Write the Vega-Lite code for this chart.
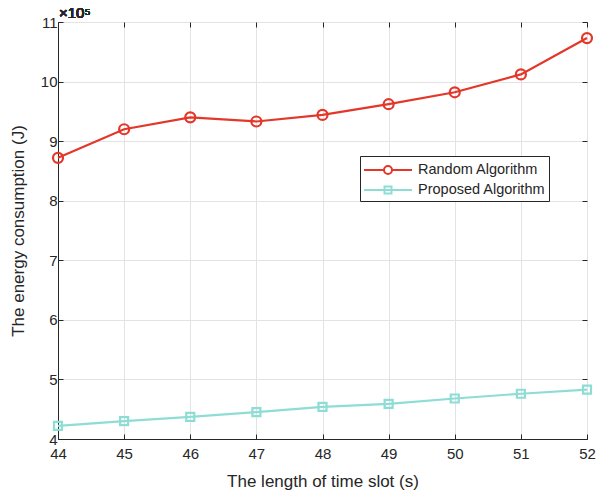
{
  "$schema": "https://vega.github.io/schema/vega-lite/v6.json",
  "width": 529,
  "height": 417,
  "autosize": {"type": "none"},
  "padding": {"left": 58, "top": 22, "right": 9, "bottom": 57},
  "background": "white",
  "data": {"values": [
    {"x": 44, "series": "Random Algorithm", "y": 872000},
    {"x": 45, "series": "Random Algorithm", "y": 920000},
    {"x": 46, "series": "Random Algorithm", "y": 940000},
    {"x": 47, "series": "Random Algorithm", "y": 933000},
    {"x": 48, "series": "Random Algorithm", "y": 944000},
    {"x": 49, "series": "Random Algorithm", "y": 962000},
    {"x": 50, "series": "Random Algorithm", "y": 982000},
    {"x": 51, "series": "Random Algorithm", "y": 1012000},
    {"x": 52, "series": "Random Algorithm", "y": 1073000},
    {"x": 44, "series": "Proposed Algorithm", "y": 422000},
    {"x": 45, "series": "Proposed Algorithm", "y": 430000},
    {"x": 46, "series": "Proposed Algorithm", "y": 437000},
    {"x": 47, "series": "Proposed Algorithm", "y": 445000},
    {"x": 48, "series": "Proposed Algorithm", "y": 454000},
    {"x": 49, "series": "Proposed Algorithm", "y": 459000},
    {"x": 50, "series": "Proposed Algorithm", "y": 468000},
    {"x": 51, "series": "Proposed Algorithm", "y": 476000},
    {"x": 52, "series": "Proposed Algorithm", "y": 483000}
  ]},
  "config": {
    "font": "Liberation Sans",
    "view": {"stroke": "#262626", "strokeWidth": 1},
    "axis": {
      "labelFont": "Liberation Sans", "titleFont": "Liberation Sans",
      "labelFontSize": 15, "titleFontSize": 17, "titleFontWeight": "normal",
      "labelColor": "#262626", "titleColor": "#262626",
      "domainColor": "#262626", "tickColor": "#262626",
      "gridColor": "#e3e3e3", "gridWidth": 1,
      "tickSize": -5, "labelFlush": false, "labelOverlap": false
    },
    "legend": {
      "labelFont": "Liberation Sans", "labelFontSize": 14.5, "labelColor": "#262626"
    }
  },
  "resolve": {"axis": {"x": "independent", "y": "independent"}},
  "layer": [
    {
      "mark": {"type": "line", "strokeWidth": 2.2},
      "encoding": {
        "x": {"field": "x", "type": "quantitative", "scale": {"domain": [44, 52], "nice": false, "zero": false},
              "axis": {"orient": "bottom", "values": [44,45,46,47,48,49,50,51,52], "title": "The length of time slot (s)", "titlePadding": 12, "labelPadding": 12, "labelFlush": false, "labelFontSize": 15, "titleFontSize": 17, "grid": true}},
        "y": {"field": "y", "type": "quantitative", "scale": {"domain": [400000, 1100000], "nice": false, "zero": false},
              "axis": {"orient": "left", "values": [400000,500000,600000,700000,800000,900000,1000000,1100000], "labelExpr": "format(datum.value/100000, 'd')", "title": "The energy consumption (J)", "titlePadding": 13, "labelPadding": 6, "labelFlush": false, "labelFontSize": 15, "titleFontSize": 17, "grid": true}},
        "color": {"field": "series", "type": "nominal", "sort": ["Random Algorithm", "Proposed Algorithm"],
                  "scale": {"domain": ["Random Algorithm", "Proposed Algorithm"], "range": ["#E3372A", "#8EDDD5"]},
                  "legend": {"orient": "none", "legendX": 302, "legendY": 134, "title": null, "fillColor": "white", "strokeColor": "#262626", "padding": 3, "symbolSize": 400, "symbolStrokeWidth": 2, "symbolOpacity": 1, "labelOffset": 33, "rowPadding": 1, "labelFontSize": 14.5}}
      }
    },
    {
      "transform": [{"filter": "datum.series === 'Random Algorithm'"}],
      "mark": {"type": "point", "shape": "circle", "filled": false, "strokeWidth": 2.2, "opacity": 1, "size": 100},
      "encoding": {
        "x": {"field": "x", "type": "quantitative", "axis": {"orient": "top", "values": [44,45,46,47,48,49,50,51,52], "labels": false, "title": null, "grid": false, "domain": false}},
        "y": {"field": "y", "type": "quantitative", "axis": {"orient": "right", "values": [400000,500000,600000,700000,800000,900000,1000000,1100000], "labels": false, "title": null, "grid": false, "domain": false}},
        "color": {"field": "series", "type": "nominal", "sort": ["Random Algorithm", "Proposed Algorithm"]}
      }
    },
    {
      "transform": [{"filter": "datum.series === 'Proposed Algorithm'"}],
      "mark": {"type": "point", "shape": "square", "filled": false, "strokeWidth": 2.2, "opacity": 1, "size": 64},
      "encoding": {
        "x": {"field": "x", "type": "quantitative", "axis": null},
        "y": {"field": "y", "type": "quantitative", "axis": null},
        "color": {"field": "series", "type": "nominal", "sort": ["Random Algorithm", "Proposed Algorithm"]}
      }
    },
    {
      "mark": {"type": "point", "filled": false, "strokeWidth": 2, "opacity": 1, "size": 0},
      "encoding": {
        "x": {"field": "x", "type": "quantitative", "axis": null},
        "y": {"field": "y", "type": "quantitative", "axis": null},
        "color": {"field": "series", "type": "nominal", "sort": ["Random Algorithm", "Proposed Algorithm"]},
        "shape": {"field": "series", "type": "nominal", "sort": ["Random Algorithm", "Proposed Algorithm"],
                  "scale": {"domain": ["Random Algorithm", "Proposed Algorithm"], "range": ["M-1,0H1A0.4,0.4,0,1,1,1.8,0A0.4,0.4,0,1,1,1,0M1.8,0H3.8", "M-1,0H3.8M1.05,-0.35H1.75V0.35H1.05Z"]},
                  "legend": {"orient": "none", "legendX": 302, "legendY": 134, "title": null, "fillColor": "white", "strokeColor": "#262626", "padding": 3, "symbolSize": 400, "symbolStrokeWidth": 2, "symbolOpacity": 1, "labelOffset": 33, "rowPadding": 1, "labelFontSize": 14.5}}
      }
    },
    {
      "mark": {"type": "text", "text": "×10⁵", "align": "left", "baseline": "alphabetic", "dx": 1, "dy": -4, "fontSize": 15, "fontWeight": "normal", "font": "Liberation Sans", "color": "#262626"},
      "encoding": {
        "x": {"datum": 44, "type": "quantitative", "axis": null},
        "y": {"datum": 1100000, "type": "quantitative", "axis": null}
      }
    }
  ]
}
